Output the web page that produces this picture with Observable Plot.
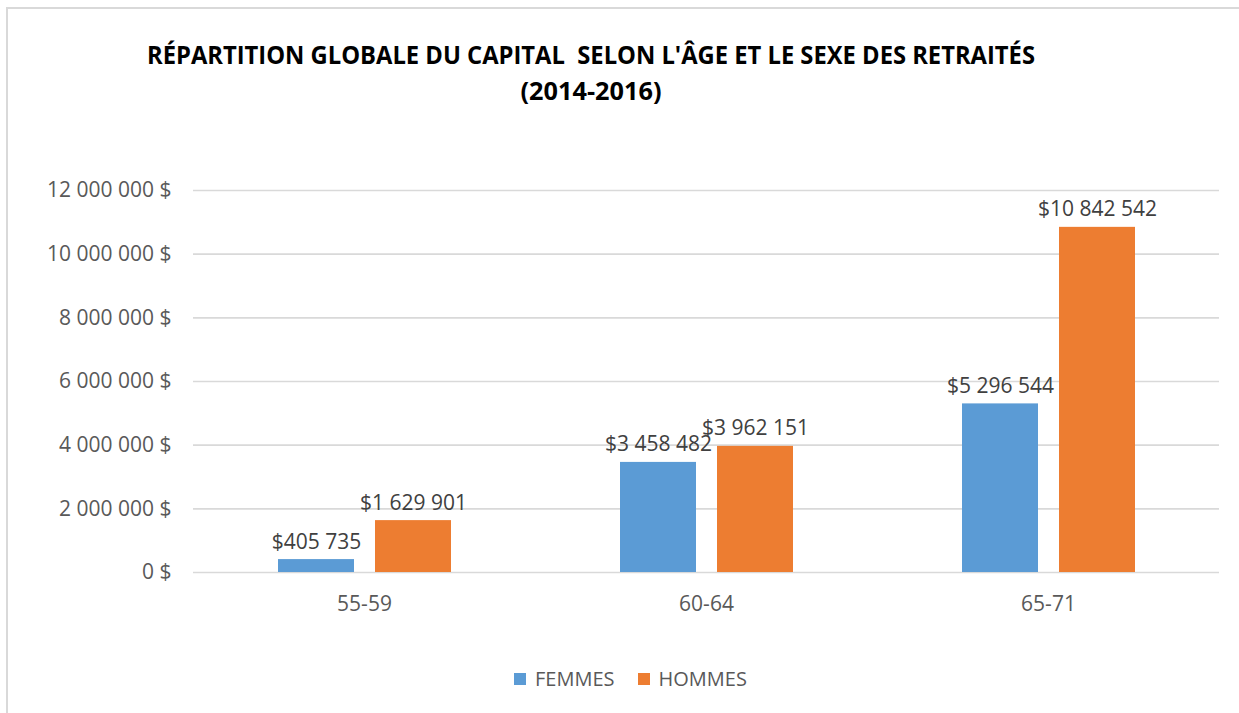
<!DOCTYPE html>
<html>
<head>
<meta charset="utf-8">
<script src="https://cdn.jsdelivr.net/npm/d3@7"></script>
<script src="https://cdn.jsdelivr.net/npm/@observablehq/plot@0.6"></script>
<style>
  html, body { margin: 0; padding: 0; background: #fff; }
  #wrap { position: relative; width: 1239px; height: 713px; overflow: hidden; font-family: "Open Sans", sans-serif; }
  #frame { position: absolute; left: 6px; top: 7px; width: 1300px; height: 800px; border-left: 2px solid #d9d9d9; border-top: 2px solid #d9d9d9; }
  #title { position: absolute; left: 0; top: 0; display: block; }
  #title text { white-space: pre; }
  #chart { position: absolute; left: 0; top: 140px; }
  #legend { position: absolute; left: 514px; top: 665px; display: flex; align-items: center; font-size: 20px; color: #595959; }
  .item { display: flex; align-items: center; }
  .sw { width: 12px; height: 12px; margin-right: 9px; }
</style>
</head>
<body>
<div id="wrap">
  <div id="frame"></div>
  <svg id="title" width="1239" height="140">
    <text x="591" y="64" text-anchor="middle" font-family="Open Sans" font-weight="700" font-size="25" fill="#000" textLength="888" lengthAdjust="spacingAndGlyphs" xml:space="preserve">RÉPARTITION GLOBALE DU CAPITAL  SELON L'ÂGE ET LE SEXE DES RETRAITÉS</text>
    <text x="591" y="100" text-anchor="middle" font-family="Open Sans" font-weight="700" font-size="25" fill="#000" textLength="141" lengthAdjust="spacingAndGlyphs">(2014-2016)</text>
  </svg>
  <div id="chart"></div>
  <div id="legend"></div>
</div>
<script>
const ages = ["55-59", "60-64", "65-71"];
const sexes = ["FEMMES", "HOMMES"];
const femmes = [405735, 3458482, 5296544];
const hommes = [1629901, 3962151, 10842542];
const colors = ["#5B9BD5", "#ED7D31"];
const yTicks = [0, 2000000, 4000000, 6000000, 8000000, 10000000, 12000000];
const yTickLabels = ["0 $", "2 000 000 $", "4 000 000 $", "6 000 000 $", "8 000 000 $", "10 000 000 $", "12 000 000 $"];

const groupSpace = s => String(s).replace(/\B(?=(\d{3})+(?!\d))/g, " ");
const data = [];
ages.forEach((a, i) => {
  data.push({age: a, sex: sexes[0], value: femmes[i]});
  data.push({age: a, sex: sexes[1], value: hommes[i]});
});

const chart = Plot.plot({
  width: 1239,
  height: 482,
  marginLeft: 193,
  marginRight: 20,
  marginTop: 50,
  marginBottom: 50,
  style: {fontFamily: "Open Sans", color: "#595959", background: "transparent"},
  fx: {domain: ages, padding: 0, label: null},
  x: {domain: sexes, paddingInner: 0.2165, paddingOuter: 0.871, axis: null},
  y: {domain: [0, 12000000], label: null},
  color: {domain: sexes, range: colors},
  marks: [
    Plot.gridY(yTicks, {stroke: "#d9d9d9", strokeOpacity: 1, strokeWidth: 1.6}),
    Plot.axisY(yTicks, {tickSize: 0, tickPadding: 22, fontSize: 21, fill: "#595959",
      tickFormat: d => yTickLabels[yTicks.indexOf(d)]}),
    Plot.axisFx({anchor: "bottom", tickSize: 0, tickPadding: 24, fontSize: 21, fill: "#595959", label: null}),
    Plot.barY(data, {fx: "age", x: "sex", y: "value", fill: "sex"}),
    Plot.text(data, {fx: "age", x: "sex", y: "value", text: d => "$" + groupSpace(d.value),
      lineAnchor: "bottom", dy: -11, fontSize: 21, fill: "#404040"})
  ]
});
document.getElementById("chart").appendChild(chart);

const legend = document.getElementById("legend");
sexes.forEach((s, i) => {
  const it = document.createElement("div");
  it.className = "item";
  if (i > 0) it.style.marginLeft = "23px";
  const sw = document.createElement("span");
  sw.className = "sw";
  sw.style.background = colors[i];
  const t = document.createElement("span");
  t.textContent = s;
  it.appendChild(sw); it.appendChild(t);
  legend.appendChild(it);
});
</script>
</body>
</html>
